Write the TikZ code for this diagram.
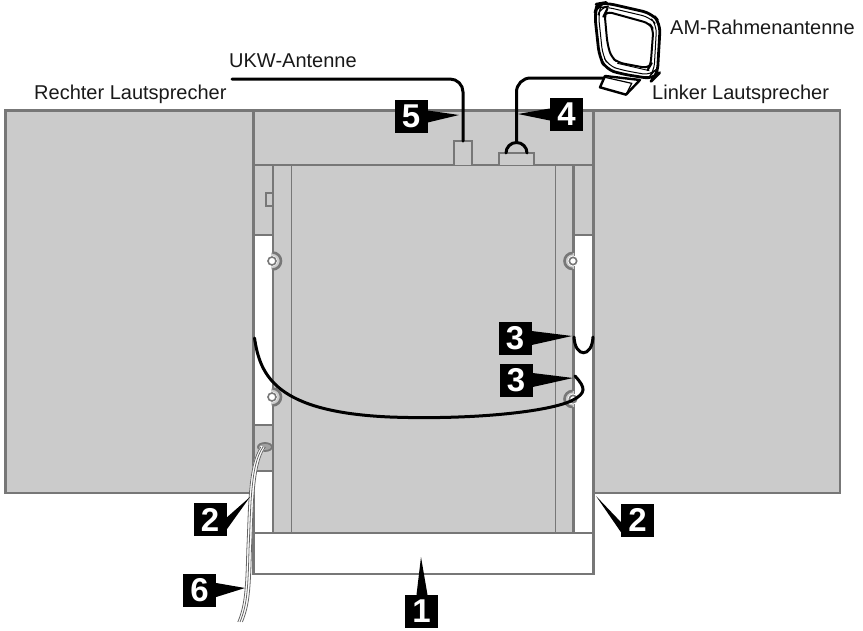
\documentclass[tikz,border=0pt]{standalone}
\usepackage{fontspec}
\setmainfont{Liberation Sans}
\definecolor{pan}{HTML}{CBCBCB}
\definecolor{edge}{HTML}{777777}
\tikzset{
  panel/.style={fill=pan,draw=edge,line width=2.8pt},
  thinline/.style={draw=edge,line width=1.2pt},
  wire/.style={draw=black,line width=3pt,line cap=round},
  numbox/.style={fill=black,text=white,minimum width=33pt,minimum height=33pt,inner sep=0pt,font=\fontsize{33}{33}\selectfont\bfseries},
  lab/.style={inner sep=0pt,font=\fontsize{20}{24}\selectfont,text=black!90},
  antline/.style={draw=black,rounded corners=5pt,line join=round}
}
\newcommand{\screwL}[2]{%
  \fill[pan] (#1-1,#2-8.5) arc (90:-90:8.5pt) -- cycle;
  \fill[white] (#1,#2) circle (5.5pt);
  \draw[edge,line width=2.6pt] (#1+0.5,#2-8.5) arc (90:-90:8.5pt);
  \fill[white,draw=edge,line width=1.6pt] (#1,#2) circle (4pt);}
\newcommand{\screwR}[2]{%
  \fill[pan] (#1+1,#2-8) arc (90:270:8pt) -- cycle;
  \fill[white] (#1,#2) circle (5.5pt);
  \draw[edge,line width=2.6pt] (#1-0.5,#2-8) arc (90:270:8pt);
  \fill[white,draw=edge,line width=1.6pt] (#1,#2) circle (3.7pt);}
\begin{document}
\begin{tikzpicture}[x=1pt,y=-1pt]
\useasboundingbox (0,0) rectangle (863,630);
% speakers
\draw[panel] (5.5,110.5) rectangle (253.5,493);
\draw[panel] (593.5,110.5) rectangle (840,493);
% rear upper part
\draw[panel] (253.5,110.5) rectangle (593.5,235);
\draw[fill=white,draw=edge,line width=2.8pt] (253.5,235) rectangle (593.5,533);
\draw[panel] (253.5,425) rectangle (273,471);
% lower plate
\draw[fill=white,draw=edge,line width=2.8pt] (253.5,533) rectangle (593.5,574);
% main unit
\draw[edge,line width=1.6pt] (253.5,165) -- (593.5,165);
\draw[panel] (273,165) rectangle (573.5,533);
\draw[thinline] (291.5,165) -- (291.5,533);
\draw[thinline] (555.5,165) -- (555.5,533);
\draw[edge,line width=1.8pt] (273,193) -- (266,193) -- (266,206) -- (273,206);
% screws
\screwL{272}{261}
\screwL{272}{397}
\screwR{573}{261}
\screwR{573}{399}
% connectors on the top
\draw[panel,line width=2.2pt] (454,165) -- (454,141) -- (472,141) -- (472,165);
\draw[panel,line width=2.2pt] (499,165) -- (499,153) -- (534,153) -- (534,165);
% grommet and cable 6
\draw[edge,fill=pan!80!black,line width=1.8pt] (265,447) ellipse (7pt and 4pt);
\coordinate (cabA) at (263,447);
\coordinate (cabB) at (240,622);
\draw[white,line width=5pt] (cabA) .. controls (250,465) and (251,510) .. (249,550) .. controls (248,590) and (247,605) .. (cabB);
\draw[black!60,line width=0.8pt] ([xshift=-2.2pt]cabA) .. controls (247.8,465) and (248.8,510) .. (246.8,550) .. controls (245.8,590) and (244.8,605) .. ([xshift=-2.2pt]cabB);
\draw[black!60,line width=0.8pt] (cabA) .. controls (250,465) and (251,510) .. (249,550) .. controls (248,590) and (247,605) .. (cabB);
\draw[black!60,line width=0.8pt] ([xshift=2.4pt]cabA) .. controls (252.4,465) and (253.4,510) .. (251.4,550) .. controls (250.4,590) and (249.4,605) .. ([xshift=2.4pt]cabB);
% speaker wires
\draw[wire] (254.5,338) .. controls (260,375) and (275,412) .. (390,417) .. controls (470,420) and (550,412) .. (573,400) .. controls (586,393) and (586,388) .. (575,376);
\draw[wire] (574,337) .. controls (575,358) and (592,358) .. (593,337);
% antenna cables
\coordinate (ukwEnd) at (232,79);
\draw[wire,rounded corners=13pt] (ukwEnd) -- (463,79) -- (463,141);
\draw[wire] (506,153) arc (180:0:10.5pt);
\draw[wire,rounded corners=14pt] (516.5,142) -- (516.5,78) -- (605,78);
% AM loop antenna
\begin{scope}[xshift=590pt,x=0.3333pt,y=-0.3333pt]
  \filldraw[fill=white,draw=black,line width=2.4pt,line join=round] (45,228) -- (30,262) -- (108,284) -- (150,240) -- cycle;
  \draw[black,line width=1.2pt] (45,232) -- (125,250) -- (108,284);
  \draw[antline,fill=white,line width=2.8pt,rounded corners=9pt] (14,42) -- (22,12) -- (45,8) -- (185,40) -- (211,70) -- (202,225) -- (190,237) -- (95,222) -- (48,208) -- (28,170) -- cycle;
  \draw[antline,line width=1pt,rounded corners=8pt] (25,42) -- (32,22) -- (45,20) -- (180,52) -- (200,75) -- (192,215) -- (182,226) -- (95,210) -- (55,197) -- (38,165) -- cycle;
  \draw[antline,line width=2pt,rounded corners=6pt] (44,42) -- (48,34) -- (178,70) -- (190,88) -- (182,195) -- (176,205) -- (85,188) -- (64,172) -- (52,130) -- cycle;
  \draw[black,line width=0.9pt] (82,190) -- (178,212);
\end{scope}
% number boxes and pointers
\node[numbox] (b5) at (411,116.5) {5};
\node[numbox] (b4) at (566.5,114.5) {4};
\node[numbox] (b3a) at (515,338) {3};
\node[numbox] (b3b) at (516,380) {3};
\node[numbox] (b2a) at (210,519.5) {2};
\node[numbox] (b2b) at (637.5,520) {2};
\node[numbox] (b6) at (199.5,590) {6};
\node[numbox] (b1) at (421.5,611.5) {1};
\coordinate (t5) at (459,115);
\coordinate (t4) at (518,114);
\coordinate (t3a) at (572,336);
\coordinate (t3b) at (573,378);
\coordinate (t2a) at (250,497);
\coordinate (t2b) at (596,496);
\coordinate (t6) at (245,588);
\coordinate (t1) at (421,557);
\fill ([yshift=6pt]b5.east) -- (t5) -- ([yshift=-6pt]b5.east) -- cycle;
\fill ([yshift=6pt]b4.west) -- (t4) -- ([yshift=-6pt]b4.west) -- cycle;
\fill ([yshift=7pt]b3a.east) -- (t3a) -- ([yshift=-7pt]b3a.east) -- cycle;
\fill ([yshift=7pt]b3b.east) -- (t3b) -- ([yshift=-7pt]b3b.east) -- cycle;
\fill ([yshift=2pt]b2a.east) -- (t2a) -- ([yshift=-10pt]b2a.east) -- cycle;
\fill ([yshift=-2pt]b2b.west) -- (t2b) -- ([yshift=-12pt]b2b.west) -- cycle;
\fill ([yshift=7pt]b6.east) -- (t6) -- ([yshift=-7pt]b6.east) -- cycle;
\fill ([xshift=-5pt]b1.north) -- (t1) -- ([xshift=6pt]b1.north) -- cycle;
% labels
\node[lab,anchor=west] (lr) at (34,94) {Rechter Lautsprecher};
\node[lab,anchor=west] (ll) at (652,94) {Linker Lautsprecher};
\node[lab,anchor=west] (lu) at (229,61) {UKW-Antenne};
\node[lab,anchor=west] (la) at (670,27) {AM-Rahmenantenne};
\end{tikzpicture}
\end{document}
